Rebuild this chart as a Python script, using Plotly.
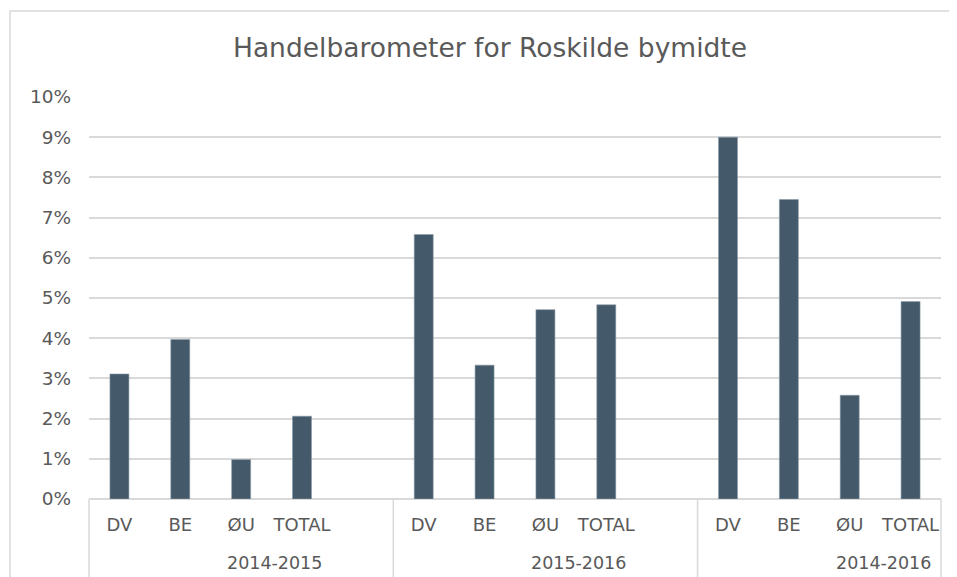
import plotly.graph_objects as go

# ---- data ----
periods = ["2014-2015", "2015-2016", "2014-2016"]
categories = ["DV", "BE", "ØU", "TOTAL"]
values_2014_2015 = [0.0311, 0.0397, 0.0098, 0.0206]
values_2015_2016 = [0.0658, 0.0333, 0.0471, 0.0483]
values_2014_2016 = [0.0900, 0.0745, 0.0258, 0.0491]
y_tick_values = [0, 0.01, 0.02, 0.03, 0.04, 0.05, 0.06, 0.07, 0.08, 0.09, 0.10]

series = [values_2014_2015, values_2015_2016, values_2014_2016]

# slot layout: each period has the 4 categories followed by one empty slot
slots_per_group = len(categories) + 1
xs, ys, tick_pos, tick_txt = [], [], [], []
for g, vals in enumerate(series):
    for i, (c, v) in enumerate(zip(categories, vals)):
        pos = g * slots_per_group + i
        xs.append(pos)
        ys.append(v)
        tick_pos.append(pos)
        tick_txt.append(c)

n_slots = len(periods) * slots_per_group - 1
x_lo, x_hi = -0.5, n_slots - 0.5

GRID = "#D9D9D9"
TXT = "#595959"
FONT = "DejaVu Sans, Verdana, sans-serif"

# page body has an 8px margin: figure is sized/offset to compensate
OFF = 8
W, H = 957 - OFF, 577 - OFF
L, R, T, B = 89 - OFF, 16, 97 - OFF, 78
PW, PH = W - L - R, H - T - B

fig = go.Figure(go.Bar(
    x=xs, y=ys,
    marker=dict(color="#44596A", line=dict(color="#8a9aa6", width=0.6)),
    hoverinfo="y",
))

fig.update_layout(
    width=W, height=H,
    margin=dict(l=L, r=R, t=T, b=B, pad=0),
    paper_bgcolor="white", plot_bgcolor="white",
    bargap=0.688,
    showlegend=False,
    title=dict(text="Handelbarometer for Roskilde bymidte",
               font=dict(family=FONT, size=26.5, color=TXT),
               x=(490 - OFF) / W, xref="container", xanchor="center",
               y=1 - (48 - OFF) / H, yref="container", yanchor="middle"),
    font=dict(family=FONT, color=TXT),
)

fig.update_xaxes(
    range=[x_lo, x_hi], tickmode="array", tickvals=tick_pos, ticktext=tick_txt,
    showgrid=False, zeroline=False, showline=False, ticks="",
    tickfont=dict(family=FONT, size=18, color=TXT), ticklabelstandoff=13,
    fixedrange=True,
)
fig.update_yaxes(
    range=[0, 0.1], tickmode="array", tickvals=y_tick_values, tickformat=".0%",
    showgrid=True, gridcolor=GRID, gridwidth=1.5,
    zeroline=True, zerolinecolor=GRID, zerolinewidth=1.5,
    showline=False, ticks="",
    tickfont=dict(family=FONT, size=18.5, color=TXT), ticklabelstandoff=17,
    fixedrange=True,
)

shapes = []
# outer chart border (extends past the picture on the right and bottom)
shapes.append(dict(type="rect", xref="paper", yref="paper",
                   x0=(10 - 89) / PW, x1=1.5, y0=-1, y1=(499 - 11) / PH,
                   line=dict(color=GRID, width=1.5), fillcolor="rgba(0,0,0,0)",
                   layer="below"))
# group dividers of the category axis
for xv in [0, 1]:
    shapes.append(dict(type="line", xref="paper", yref="paper",
                       x0=xv, x1=xv, y0=0, y1=-0.3,
                       line=dict(color=GRID, width=1.5)))
for g in range(1, len(periods)):
    xv = g * slots_per_group - 0.5
    shapes.append(dict(type="line", xref="x", yref="paper",
                       x0=xv, x1=xv, y0=0, y1=-0.3,
                       line=dict(color=GRID, width=1.5)))
fig.update_layout(shapes=shapes)

annotations = []
for g, p in enumerate(periods):
    annotations.append(dict(x=g * slots_per_group + 2.55, y=-64 / PH,
                            xref="x", yref="paper", text=p, showarrow=False,
                            xanchor="center", yanchor="middle",
                            font=dict(family=FONT, size=17.5, color=TXT)))
fig.update_layout(annotations=annotations)

fig.write_html("out.html")
